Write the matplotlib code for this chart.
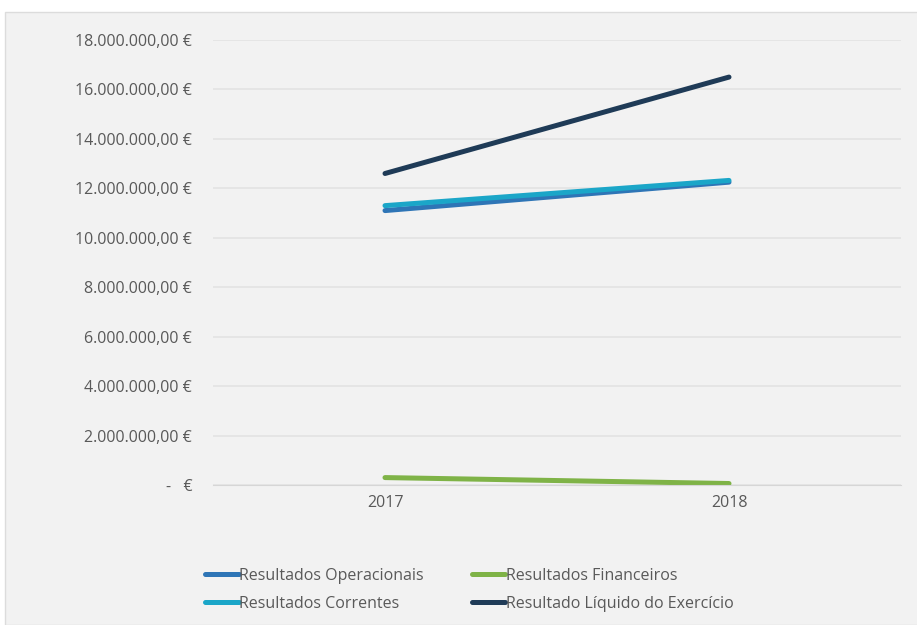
import matplotlib
matplotlib.use("Agg")
import matplotlib.pyplot as plt
from matplotlib.patches import Rectangle
from matplotlib.ticker import FuncFormatter

plt.rcParams['font.family'] = ['Open Sans', 'DejaVu Sans']

anos = ['2017', '2018']
operacionais = [11.1e6, 12.25e6]
financeiros = [0.3e6, 0.06e6]
correntes = [11.3e6, 12.32e6]
liquido = [12.6e6, 16.5e6]

nomes = ['Resultados Operacionais', 'Resultados Financeiros',
         'Resultados Correntes', 'Resultado Líquido do Exercício']
cores = ['#2E75B6', '#7FB347', '#1BA6C8', '#1F3B57']

def fmt_euro(v, pos):
    if v == 0:
        return '-   €'
    s = '{:,.2f}'.format(v)
    s = s.replace(',', 'X').replace('.', ',').replace('X', '.')
    return s + ' €'

fig = plt.figure(figsize=(9.17, 6.25), dpi=100, facecolor='white')
# fundo cinzento do gráfico
fig.patches.append(Rectangle((5 / 917, 0), 1, 1 - 12 / 625, transform=fig.transFigure,
                             facecolor='#f2f2f2', edgecolor='#dcdcdc', lw=1.0, zorder=-10))

ax = fig.add_axes([213 / 917, 1 - 485 / 625, (901 - 213) / 917, (485 - 40) / 625])
ax.set_facecolor('none')

x = range(len(anos))
series = [operacionais, financeiros, correntes, liquido]
linhas = []
for vals, nome, cor in zip(series, nomes, cores):
    l, = ax.plot(x, vals, color=cor, lw=3.6, solid_capstyle='round', label=nome)
    linhas.append(l)

ax.set_xlim(-0.5, 1.5)
ax.set_ylim(0, 18e6)
ax.set_yticks([i * 2e6 for i in range(10)])
ax.yaxis.set_major_formatter(FuncFormatter(fmt_euro))
ax.set_xticks(list(x))
ax.set_xticklabels(anos)
ax.grid(axis='y', color='#e3e3e3', lw=1.2)
ax.set_axisbelow(True)
for s in ['top', 'right', 'left']:
    ax.spines[s].set_visible(False)
ax.spines['bottom'].set_color('#d6d6d6')
ax.tick_params(axis='both', length=0, labelsize=11.5, labelcolor='#595959')
ax.tick_params(axis='y', pad=15)
ax.tick_params(axis='x', pad=7)

ordem = [0, 2, 1, 3]
leg = fig.legend([linhas[i] for i in ordem], [nomes[i] for i in ordem], ncol=2,
                 loc='center left', bbox_to_anchor=(205 / 917, 1 - 590 / 625),
                 frameon=False, fontsize=11.5, handlelength=2.1, handletextpad=0.05,
                 columnspacing=3.0, labelspacing=0.75, borderpad=0, borderaxespad=0)
for t in leg.get_texts():
    t.set_color('#595959')

fig.savefig('out.png', dpi=100, facecolor=fig.get_facecolor())
